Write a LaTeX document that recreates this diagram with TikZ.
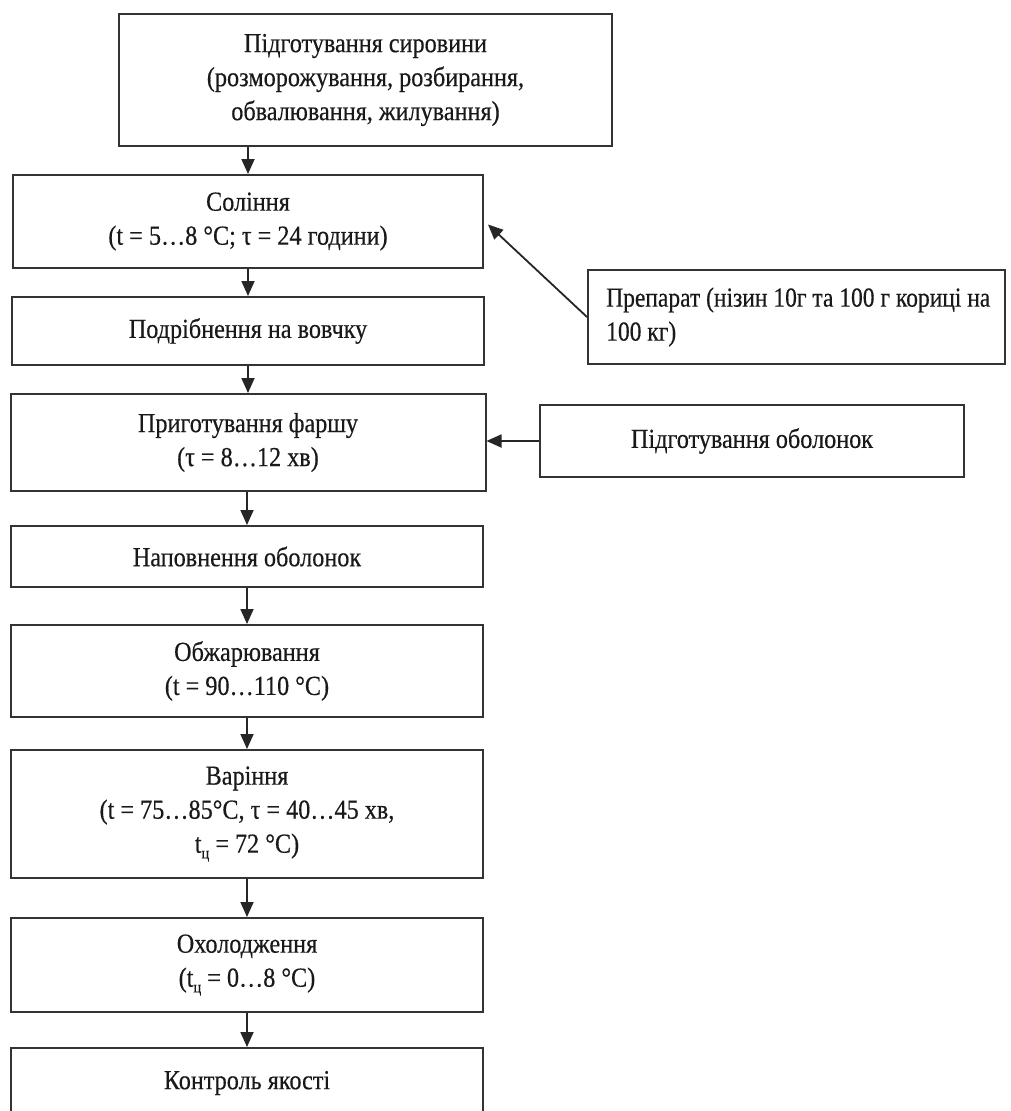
\documentclass[tikz,border=0pt]{standalone}
\usepackage{fontspec}
\setmainfont{Liberation Serif}[FakeStretch=0.88,FakeBold=0.4]
\newfontfamily\narrowserif{Liberation Serif}[FakeStretch=0.855,FakeBold=0.4]
\usetikzlibrary{arrows.meta}
\newcommand\subcy[1]{\raisebox{-0.45ex}{\scalebox{0.6}{#1}}}
\begin{document}
\begin{tikzpicture}[x=1pt,y=-1pt,
  every node/.style={font=\fontsize{27.5}{34}\selectfont, text=black!90},
  box/.style={draw=black!80, line width=2pt, rectangle, inner sep=0pt, align=center},
  arr/.style={draw=black!85, line width=1.8pt, -{Triangle[length=15pt,width=13pt]}}]
\useasboundingbox (0,0) rectangle (1010,1111);
\clip (0,0) rectangle (1010,1111);
\fill[white] (0,0) rectangle (1010,1111);

\node[box, minimum width=493pt, minimum height=132pt] (prep) at (365.5,80)
  {Підготування сировини\\(розморожування, розбирання,\\обвалювання, жилування)};
\node[box, minimum width=470pt, minimum height=93pt] (sol) at (248,221.5)
  {Соління\\(t = 5…8 °C; τ = 24 години)};
\node[box, minimum width=472pt, minimum height=68pt] (podr) at (248,331)
  {Подрібнення на вовчку};
\node[box, minimum width=475pt, minimum height=97pt] (farsh) at (248,442.5)
  {Приготування фаршу\\(τ = 8…12 хв)};
\node[box, minimum width=472pt, minimum height=61pt] (napov) at (247,556.5)
  {Наповнення оболонок};
\node[box, minimum width=472pt, minimum height=92pt] (obzh) at (247,671)
  {Обжарювання\\(t = 90…110 °C)};
\node[box, minimum width=472pt, minimum height=128pt] (var) at (247,814)
  {Варіння\\(t = 75…85°C, τ = 40…45 хв,\\t\subcy{ц} = 72 °C)};
\node[box, minimum width=472pt, minimum height=94pt] (okh) at (247,965)
  {Охолодження\\(t\subcy{ц} = 0…8 °C)};
\node[box, minimum width=472pt, minimum height=70pt] (kontr) at (247,1083)
  {Контроль якості};

\node[box, minimum width=417pt, minimum height=94pt] (prepar) at (796.5,317) {};
\node[anchor=west, align=left, inner sep=0pt, font=\fontsize{27.5}{34}\narrowserif] (prepartext) at ([xshift=19pt]prepar.west)
  {Препарат (нізин 10г та 100 г кориці на\\100 кг)};
\node[box, minimum width=424pt, minimum height=72pt] (obol) at (752,441)
  {Підготування оболонок};

\draw[arr] (prep.south -| sol.north) -- (sol.north);
\draw[arr] (sol.south) -- (podr.north -| sol.south);
\draw[arr] (podr.south) -- (farsh.north -| podr.south);
\draw[arr] (farsh.south -| napov.north) -- (napov.north);
\draw[arr] (napov) -- (obzh);
\draw[arr] (obzh) -- (var);
\draw[arr] (var) -- (okh);
\draw[arr] (okh) -- (kontr);
\draw[arr] (prepar.west) -- ([xshift=4pt,yshift=-3pt]sol.east);
\draw[arr] (obol.west) -- (obol.west -| farsh.east);
\end{tikzpicture}
\end{document}
